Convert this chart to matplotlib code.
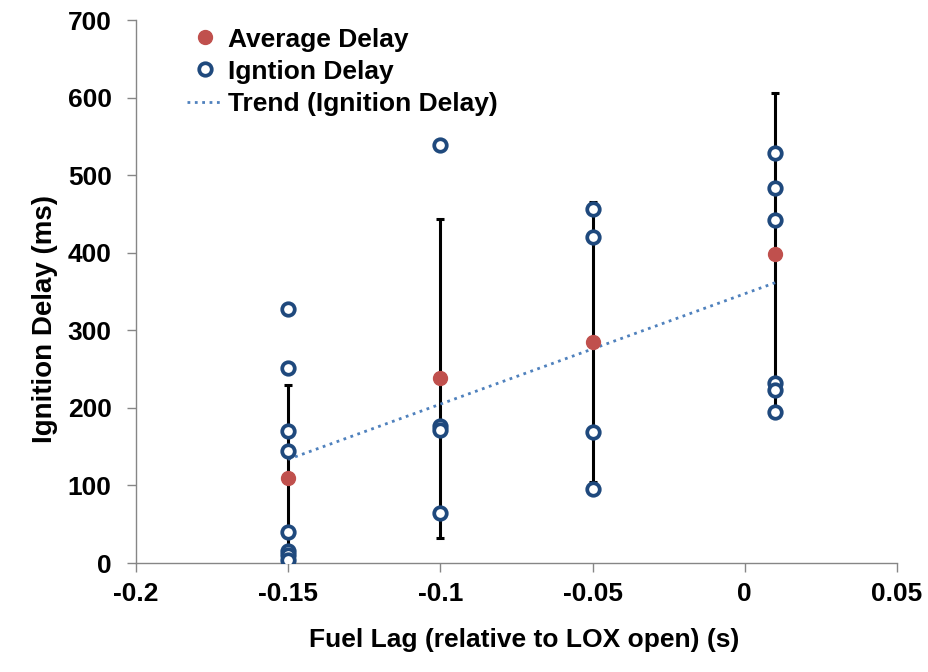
import matplotlib
matplotlib.use('Agg')
import matplotlib.pyplot as plt
import numpy as np

plt.rcParams['font.family'] = ['Liberation Sans', 'DejaVu Sans']
plt.rcParams['font.weight'] = 'bold'

# fuel lag groups and the averages / spreads
lag_groups = [-0.15, -0.1, -0.05, 0.01]
avg_delay = [110, 238, 285, 398]
delay_err = [119, 206, 180, 208]

# individual ignition delay measurements
ign_lag = [-0.15] * 8 + [-0.1] * 4 + [-0.05] * 4 + [0.01] * 6
ign_delay = [328, 252, 170, 145, 40, 16, 10, 4,
             539, 176, 171, 64,
             456, 420, 169, 96,
             528, 484, 442, 232, 223, 195]

fig = plt.figure(figsize=(9.29, 6.72), dpi=100)
ax = fig.add_axes([0.1464, 0.1622, 0.819, 0.808])

ax.errorbar(lag_groups, avg_delay, yerr=delay_err, fmt='none', ecolor='black',
            elinewidth=2.2, capsize=3, capthick=2.2, zorder=2)

# linear trend through the ignition points
coef = np.polyfit(ign_lag, ign_delay, 1)
tx = np.array([min(ign_lag), max(ign_lag)])
ax.plot(tx, np.polyval(coef, tx), ':', color='#4F81BD', lw=2,
        label='Trend (Ignition Delay)', zorder=3)

ax.plot(lag_groups, avg_delay, 'o', color='#C0504D', ms=10, mec='#C0504D',
        label='Average Delay', zorder=4)
ax.plot(ign_lag, ign_delay, 'o', mfc='white', mec='#1F497D', mew=2.7, ms=9,
        label='Igntion Delay', zorder=5)

ax.set_xlim(-0.2, 0.05)
ax.set_ylim(0, 700)
ax.set_xticks([-0.2, -0.15, -0.1, -0.05, 0, 0.05])
ax.set_xticklabels(['-0.2', '-0.15', '-0.1', '-0.05', '0', '0.05'])
ax.set_yticks(range(0, 701, 100))

for s in ['top', 'right']:
    ax.spines[s].set_visible(False)
for s in ['left', 'bottom']:
    ax.spines[s].set_color('#868686')
    ax.spines[s].set_linewidth(1)
ax.tick_params(direction='out', length=6.5, color='#868686', labelsize=19,
               width=1)
ax.tick_params(axis='x', pad=7)
ax.tick_params(axis='y', pad=11)

ax.set_xlabel('Fuel Lag (relative to LOX open) (s)', fontsize=19,
              fontweight='bold')
ax.set_ylabel('Ignition Delay (ms)', fontsize=20, fontweight='bold')
ax.xaxis.set_label_coords(0.51, -0.12)
ax.yaxis.set_label_coords(-0.1026, 0.45)

h, l = ax.get_legend_handles_labels()
order = [1, 2, 0]
fig.legend([h[i] for i in order], [l[i] for i in order], loc='upper left',
           bbox_to_anchor=(0.2013, 0.959), frameon=False, fontsize=19,
           handlelength=1.33, handletextpad=0.23, labelspacing=0.31,
           borderpad=0, borderaxespad=0)

fig.savefig('out.png', dpi=100)
